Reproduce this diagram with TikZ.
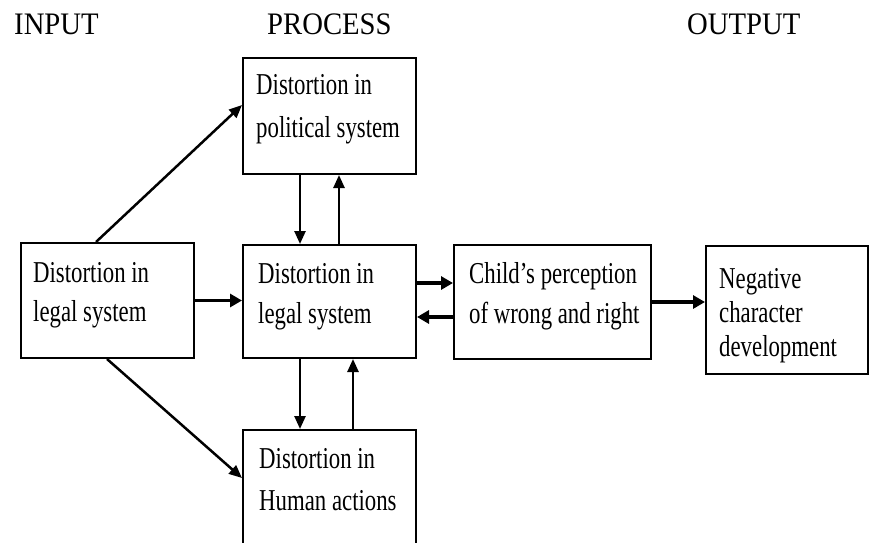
\documentclass[tikz,border=0pt]{standalone}
\usepackage{fontspec}
\setmainfont{Liberation Serif}
\usetikzlibrary{arrows.meta,calc}
\newcommand{\vsc}[2][1.33]{\scalebox{1}[#1]{#2}}
\newcommand{\boxtext}[2]{\fontsize{22.8}{#1}\selectfont\begin{tabular}[t]{@{}l@{}}#2\end{tabular}}
\tikzset{
  box/.style={draw, line width=2pt, inner sep=0pt},
  txt/.style={inner sep=0pt, anchor=base west},
  hdr/.style={inner sep=0pt, anchor=base west, font=\fontsize{28.7}{34}\selectfont},
  thin/.style={line width=2.5pt, -{Triangle[length=13pt,width=11pt]}},
  thick/.style={line width=3.4pt, -{Triangle[length=12pt,width=13pt]}}
}
\begin{document}
\begin{tikzpicture}[x=1pt, y=-1pt]
\useasboundingbox (0,0) rectangle (870,542);
\clip (0,0) rectangle (870,542);

% headers
\node[hdr] (hin) at (14,34) {\vsc[1.09]{INPUT}};
\node[hdr] (hpr) at (267,34) {\vsc[1.09]{PROCESS}};
\node[hdr] (hout) at (687,34) {\vsc[1.09]{OUTPUT}};

% boxes
\node[box, minimum width=173pt, minimum height=115pt] (L) at (107.5,300.5) {};
\node[box, minimum width=173pt, minimum height=116pt] (T) at (329.5,116) {};
\node[box, minimum width=173pt, minimum height=113pt] (M) at (329.5,301.5) {};
\node[box, minimum width=173pt, minimum height=130pt] (B) at (329.5,495) {};
\node[box, minimum width=197pt, minimum height=114pt] (C) at (552.5,302) {};
\node[box, minimum width=162pt, minimum height=128pt] (N) at (787,310) {};

% texts
\node[txt] (Lt) at (33,282.3) {\vsc{\boxtext{29.7}{Distortion in\\legal system}}};
\node[txt] (Tt) at (256,94.5) {\vsc{\boxtext{32}{Distortion in\\political system}}};
\node[txt] (Mt) at (258,283.5) {\vsc{\boxtext{29.7}{Distortion in\\legal system}}};
\node[txt] (Bt) at (259,468.5) {\vsc{\boxtext{31.2}{Distortion in\\Human actions}}};
\node[txt] (Ct) at (469,283) {\vsc{\boxtext{30.5}{Child’s perception\\of wrong and right}}};
\node[txt] (Nt) at (719,288) {\vsc{\boxtext{25.6}{Negative\\character\\development}}};

% connectors
\draw[thin] ([xshift=-11.5pt]L.north) -- ([yshift=11pt]T.west);
\draw[thin] ([xshift=-0.5pt]L.south) -- ([yshift=17pt]B.west);
\draw[thick] (L.east) -- (L.east -| M.west);

\draw[thin] ([xshift=-29.5pt]T.south) -- ([xshift=-29.5pt]M.north);
\draw[thin] ([xshift=9.5pt]M.north) -- ([xshift=9.5pt]T.south);
\draw[thin] ([xshift=-29.5pt]M.south) -- ([xshift=-29.5pt]B.north);
\draw[thin] ([xshift=23.5pt]B.north) -- ([xshift=23.5pt]M.south);

\draw[thick] ([yshift=18.5pt]M.east) -- ([yshift=18.5pt]M.east -| C.west);
\draw[thick] ([yshift=-15.5pt]M.east -| C.west) -- ([yshift=-15.5pt]M.east);
\draw[thick] (C.east) -- (C.east -| N.west);
\end{tikzpicture}
\end{document}
